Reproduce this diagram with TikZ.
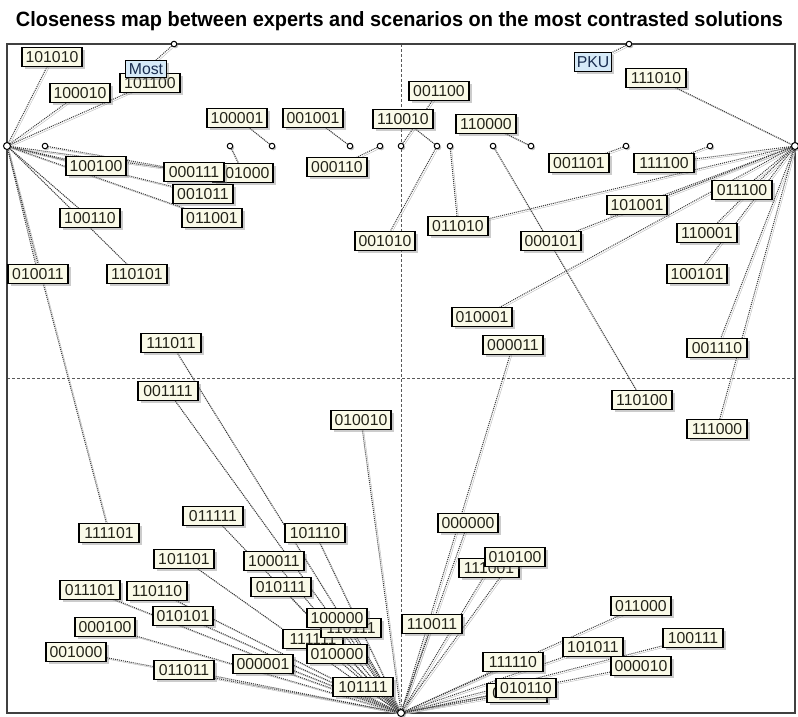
\documentclass[tikz,border=0pt]{standalone}
\usepackage{fontspec}
\setmainfont{Liberation Sans}
\usetikzlibrary{shadows}
\pgfdeclarelayer{bg}
\pgfsetlayers{bg,main}
\definecolor{cream}{RGB}{250,250,232}
\definecolor{pale}{RGB}{214,234,248}
\definecolor{framec}{RGB}{64,64,64}
\definecolor{ink}{RGB}{35,35,25}
\definecolor{bink}{RGB}{25,45,80}
\tikzset{
  lab/.style={draw=black, line width=1.6pt, fill=cream, text=ink,
    font=\fontsize{15.8}{16}\selectfont, inner xsep=0pt, inner ysep=0pt,
    minimum width=60pt, minimum height=19pt, text height=11.3pt, text depth=0pt,
    drop shadow={shadow xshift=2.5pt, shadow yshift=-2.5pt, opacity=0.4}},
  blab/.style={lab, fill=pale, text=bink, line width=1.1pt},
  expt/.style={circle, draw=black, line width=1pt, fill=white, inner sep=0pt,
    minimum size=5.5pt, drop shadow={shadow xshift=1.5pt, shadow yshift=-1.5pt, opacity=0.5}},
  hubpt/.style={expt, minimum size=7pt},
  conn/.style={draw=black!78, line width=1pt, dash pattern=on 1pt off 1pt,
    preaction={draw=black!28, transform canvas={xshift=1.5pt,yshift=-1.5pt}}},
  axis/.style={draw=black!65, line width=0.6pt, dash pattern=on 3pt off 2pt},
}
\begin{document}
\begin{tikzpicture}[x=1pt,y=-1pt]
\useasboundingbox (0,0) rectangle (798,716);
\node[anchor=base] (title) at (399.5,26) {\resizebox{767pt}{15pt}{\bfseries Closeness map between experts and scenarios on the most contrasted solutions}};
\coordinate (fTL) at (7,44);
\coordinate (fBR) at (795,713);
\coordinate (vT) at (401,44);
\coordinate (vB) at (401,713);
\coordinate (hL) at (7,378);
\coordinate (hR) at (795,378);
\begin{pgfonlayer}{bg}
  \draw[axis] (vT) -- (vB);
  \draw[axis] (hL) -- (hR);
  \draw[draw=framec, line width=1.5pt] (fTL) rectangle (fBR);
\end{pgfonlayer}

% hubs and experts
\node[hubpt] (L) at (7,146) {};
\node[hubpt] (R) at (795,146) {};
\node[hubpt] (B) at (401,713) {};
\node[expt] (eMost) at (174,44) {};
\node[expt] (ePKU) at (629,44) {};
\node[expt] (e1) at (45,146) {};
\node[expt] (e2) at (230,146) {};
\node[expt] (e3) at (272,146) {};
\node[expt] (e4) at (350,146) {};
\node[expt] (e5) at (380,146) {};
\node[expt] (e6) at (401,146) {};
\node[expt] (e7) at (437,146) {};
\node[expt] (e8) at (450,146) {};
\node[expt] (e9) at (493,146) {};
\node[expt] (e10) at (531,146) {};
\node[expt] (e11) at (626,146) {};
\node[expt] (e12) at (710,146) {};

% labels
\node[lab] (n101010) at (52,57) {101010};
\node[lab] (n101100) at (150,83) {101100};
\node[lab] (n100010) at (80,93) {100010};
\node[lab] (n100001) at (237,118) {100001};
\node[lab] (n001001) at (313,118) {001001};
\node[lab] (n001100) at (439,91) {001100};
\node[lab] (n110010) at (403,119) {110010};
\node[lab] (n110000) at (486,124) {110000};
\node[lab] (n111010) at (656,78) {111010};
\node[lab] (n100100) at (96,166) {100100};
\node[lab] (n101000) at (243,173) {101000};
\node[lab] (n000111) at (194,172) {000111};
\node[lab] (n001011) at (203,194) {001011};
\node[lab] (n011001) at (212,218) {011001};
\node[lab] (n000110) at (337,167) {000110};
\node[lab] (n001101) at (579,163) {001101};
\node[lab] (n111100) at (664,163) {111100};
\node[lab] (n011100) at (742,190) {011100};
\node[lab] (n101001) at (637,205) {101001};
\node[lab] (n001010) at (385,241) {001010};
\node[lab] (n011010) at (458,226) {011010};
\node[lab] (n000101) at (551,241) {000101};
\node[lab] (n110001) at (707,233) {110001};
\node[lab] (n100110) at (90,218) {100110};
\node[lab] (n010011) at (38,274) {010011};
\node[lab] (n110101) at (137,274) {110101};
\node[lab] (n100101) at (697,274) {100101};
\node[lab] (n010001) at (482,317) {010001};
\node[lab] (n000011) at (513,345) {000011};
\node[lab] (n001110) at (717,348) {001110};
\node[lab] (n111011) at (171,343) {111011};
\node[lab] (n110100) at (642,400) {110100};
\node[lab] (n001111) at (168,391) {001111};
\node[lab] (n010010) at (361,420) {010010};
\node[lab] (n111000) at (717,429) {111000};
\node[lab] (n111101) at (109,533) {111101};
\node[lab] (n011111) at (213,516) {011111};
\node[lab] (n101110) at (315,533) {101110};
\node[lab] (n000000) at (468,523) {000000};
\node[lab] (n100011) at (274,561) {100011};
\node[lab] (n101101) at (184,559) {101101};
\node[lab] (n010111) at (281,587) {010111};
\node[lab] (n111001) at (489,568) {111001};
\node[lab] (n010100) at (515,557) {010100};
\node[lab] (n011101) at (90,590) {011101};
\node[lab] (n110110) at (157,591) {110110};
\node[lab] (n010101) at (183,616) {010101};
\node[lab] (n111111) at (313,639) {111111};
\node[lab] (n110111) at (351,628) {110111};
\node[lab] (n100000) at (337,618) {100000};
\node[lab] (n010000) at (337,654) {010000};
\node[lab] (n110011) at (432,624) {110011};
\node[lab] (n011000) at (641,606) {011000};
\node[lab] (n000100) at (105,627) {000100};
\node[lab] (n001000) at (76,652) {001000};
\node[lab] (n000001) at (263,664) {000001};
\node[lab] (n011011) at (184,670) {011011};
\node[lab] (n101111) at (363,687) {101111};
\node[lab] (n100111) at (693,638) {100111};
\node[lab] (n101011) at (593,647) {101011};
\node[lab] (n000010) at (641,666) {000010};
\node[lab] (n111110) at (513,662) {111110};
\node[lab] (n011110) at (517,693) {011110};
\node[lab] (n010110) at (526,688) {010110};
\node[blab, minimum width=41pt, minimum height=17pt] (Most) at (146,69) {Most};
\node[blab, minimum width=37pt] (PKU) at (593,62) {PKU};

\begin{pgfonlayer}{bg}
  \draw[conn] (eMost) -- (Most.center);
  \draw[conn] (ePKU) -- (PKU.center);
  \draw[conn] (e1) -- (n000111.center);
  \draw[conn] (e2) -- (n101000.center);
  \draw[conn] (e3) -- (n100001.center);
  \draw[conn] (e4) -- (n001001.center);
  \draw[conn] (e5) -- (n000110.center);
  \draw[conn] (e6) -- (n001100.center);
  \draw[conn] (e7) -- (n110010.center);
  \draw[conn] (e7) -- (n001010.center);
  \draw[conn] (e8) -- (n011010.center);
  \draw[conn] (e9) -- (n110100.center);
  \draw[conn] (e10) -- (n110000.center);
  \draw[conn] (e11) -- (n001101.center);
  \draw[conn] (e12) -- (n111100.center);
  \foreach \n in {101010,100010,101100,100100,000111,001011,011001,100110,110101,010011,111101}
    \draw[conn] (L) -- (n\n.center);
  \foreach \n in {111010,111100,011100,101001,011010,000101,010001,110001,100101,001110,111000}
    \draw[conn] (R) -- (n\n.center);
  \foreach \n in {000011,111011,001111,010010,011111,101110,000000,100011,101101,010111,111001,010100,011101,110110,010101,111111,110111,100000,110011,011000,000100,001000,010000,000001,011011,101111,100111,101011,111110,000010,011110,010110}
    \draw[conn] (B) -- (n\n.center);
\end{pgfonlayer}
\end{tikzpicture}
\end{document}
